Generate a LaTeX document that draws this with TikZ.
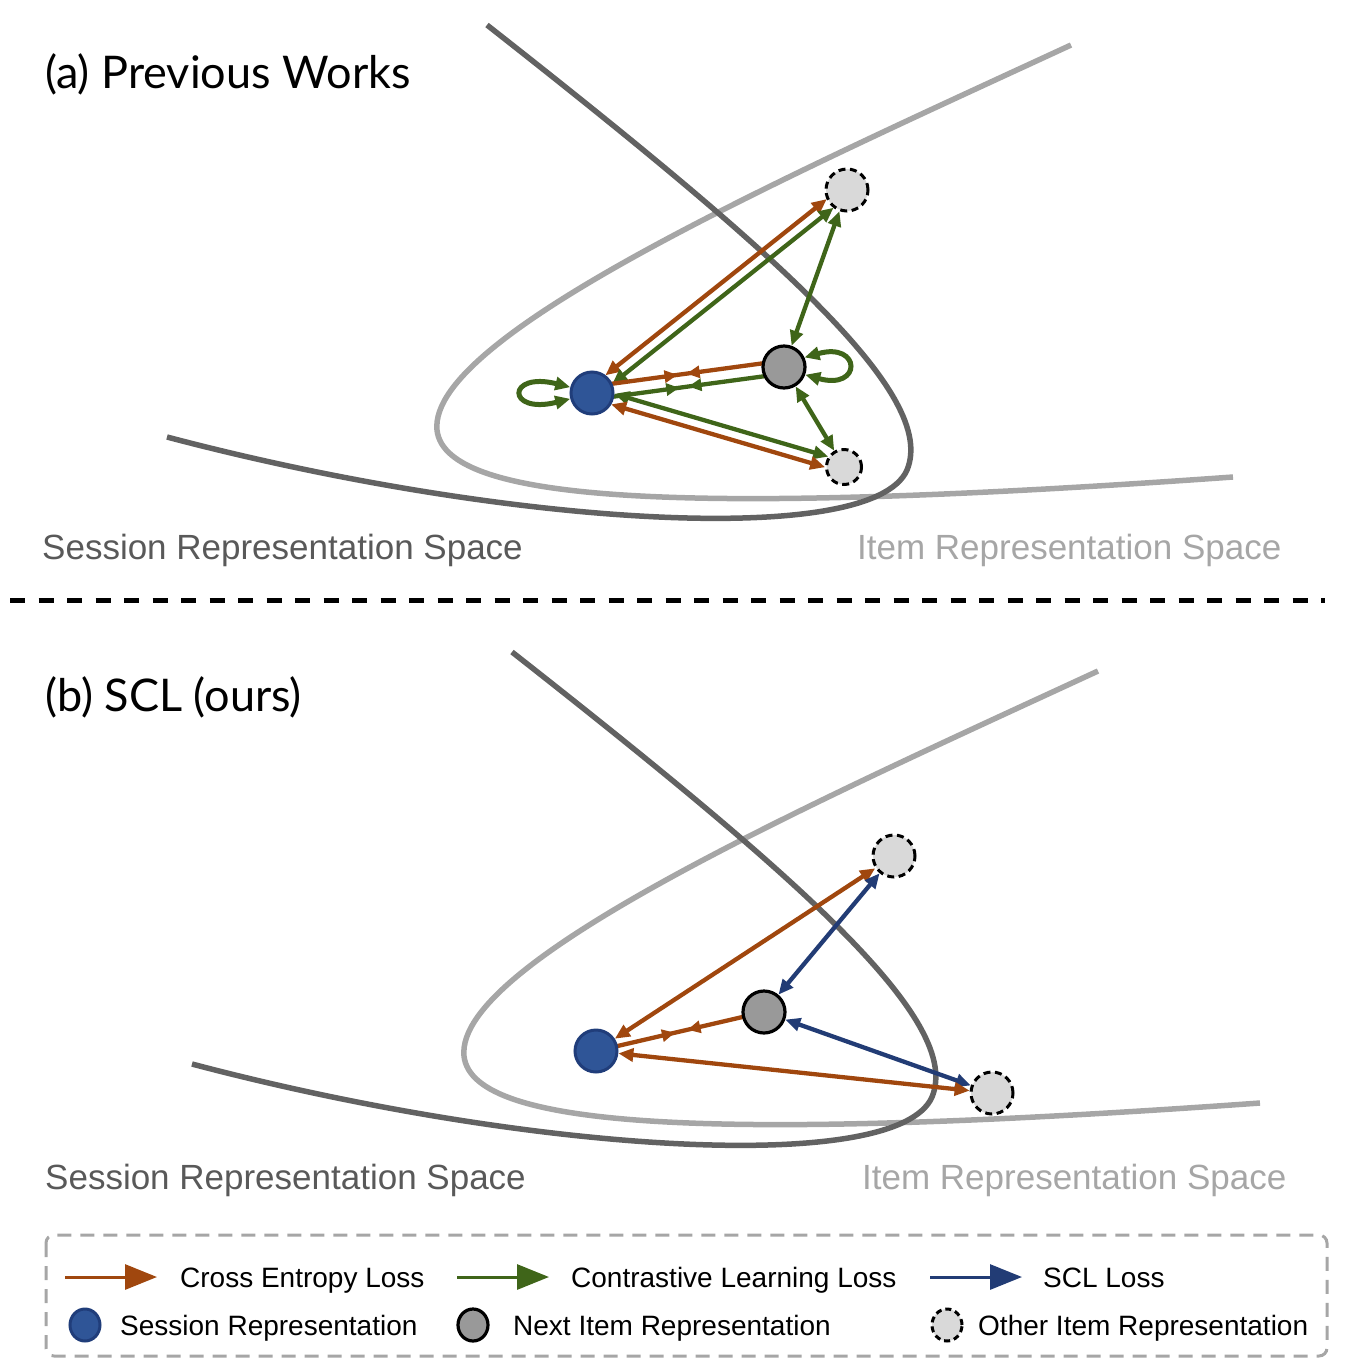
\documentclass[tikz,border=0pt]{standalone}
\usepackage{fontspec}
\setmainfont{Liberation Sans}
\newfontfamily\titlefont{Lato}
\usetikzlibrary{arrows.meta,calc,decorations.markings,shapes.geometric}
\pgfdeclarelayer{bg}
\pgfdeclarelayer{conn}
\pgfsetlayers{bg,conn,main}
\definecolor{ceC}{HTML}{A0470E}
\definecolor{clC}{HTML}{3F6519}
\definecolor{sclC}{HTML}{223C75}
\definecolor{sessF}{HTML}{2F5597}
\definecolor{sessD}{HTML}{203D7A}
\definecolor{nextF}{HTML}{999999}
\definecolor{othF}{HTML}{D9D9D9}
\definecolor{darkC}{HTML}{626262}
\definecolor{lightC}{HTML}{A6A6A6}
\definecolor{sessT}{HTML}{595959}
\definecolor{itemT}{HTML}{A6A6A6}
\tikzset{
  sess/.style={circle, fill=sessF, draw=sessD, line width=3pt, minimum size=42pt, inner sep=0pt},
  nexti/.style={circle, fill=nextF, draw=black, line width=3.2pt, minimum size=42pt, inner sep=0pt},
  other/.style={circle, fill=othF, draw=black, line width=3pt, dash pattern=on 7pt off 4.5pt, minimum size=42pt, inner sep=0pt},
  tipstyle/.style={>={Triangle[length=15pt,width=13pt]}},
  ce/.style={draw=ceC, line width=4.3pt, tipstyle},
  cl/.style={draw=clC, line width=4.3pt, tipstyle},
  scl/.style={draw=sclC, line width=4.3pt, tipstyle},
  loopline/.style={draw=clC, line width=5pt, tipstyle},
  darkcurve/.style={draw=darkC, line width=5.5pt},
  lightcurve/.style={draw=lightC, line width=5.5pt},
  titletext/.style={anchor=base west, inner sep=0pt, font=\titlefont\fontsize{45}{52}\selectfont},
  spacetext/.style={anchor=base west, inner sep=0pt, font=\fontsize{35}{40}\selectfont},
  legtext/.style={anchor=base west, inner sep=0pt, font=\fontsize{28}{32}\selectfont},
  legarrow/.style={line width=3pt, -{Triangle[length=32pt,width=25pt]}},
  marksA/.style={postaction={decorate}, decoration={markings,
     mark=at position 0.45 with {\arrow{Triangle[length=13pt,width=12pt]}},
     mark=at position 0.565 with {\arrow{Triangle[reversed,length=13pt,width=12pt]}}}},
  marksB/.style={postaction={decorate}, decoration={markings,
     mark=at position 0.47 with {\arrow{Triangle[length=13pt,width=12pt]}},
     mark=at position 0.62 with {\arrow{Triangle[reversed,length=13pt,width=12pt]}}}},
}
\begin{document}
\begin{tikzpicture}[x=1pt,y=-1pt]
\useasboundingbox (0,0) rectangle (1351,1358);

% ---------- titles ----------
\node[titletext] (ta) at (45,88) {(a) Previous Works};
\node[titletext] (tb) at (45,711) {(b) SCL (ours)};

% ---------- curves ----------
\begin{pgfonlayer}{bg}
\draw[lightcurve] (1071,45) .. controls (790,175) and (428,335) .. (437,430)
      .. controls (445,505) and (700,515) .. (1233,477);
\draw[darkcurve] (487,25) .. controls (780,255) and (938,395) .. (907,470)
      .. controls (872,550) and (500,525) .. (167,437);
\begin{scope}[shift={(27,626)}]
\draw[lightcurve] (1071,45) .. controls (790,175) and (428,335) .. (437,430)
      .. controls (445,505) and (700,515) .. (1233,477);
\end{scope}
\begin{scope}[shift={(25,627)}]
\draw[darkcurve] (487,25) .. controls (780,255) and (938,395) .. (907,470)
      .. controls (872,550) and (500,525) .. (167,437);
\end{scope}
\end{pgfonlayer}

% ---------- space labels ----------
\node[spacetext, text=sessT] (sla) at (42,559) {Session Representation Space};
\node[spacetext, text=itemT] (ila) at (857,559) {Item Representation Space};
\node[spacetext, text=sessT] (slb) at (45,1189) {Session Representation Space};
\node[spacetext, text=itemT] (ilb) at (862,1189) {Item Representation Space};

% ---------- divider ----------
\coordinate (dl) at (10,600);
\coordinate (dr) at (1325,600);
\draw[black, line width=5pt, dash pattern=on 15pt off 13.5pt] (dl) -- (dr);

% ---------- panel (a) nodes ----------
\node[sess] (Sa) at (592,393) {};
\node[nexti] (Na) at (784,367) {};
\node[other] (Oa1) at (847,190) {};
\node[other, minimum size=35pt] (Oa2) at (844,467) {};

\begin{pgfonlayer}{conn}
% S <-> O1
\draw[ce,<->, shorten <=21.5pt, shorten >=21.5pt] ($(Sa)!5.5pt!90:(Oa1)$) -- ($(Oa1)!5.5pt!-90:(Sa)$);
\draw[cl,<->, shorten <=21.5pt, shorten >=21.5pt] ($(Sa)!5.5pt!-90:(Oa1)$) -- ($(Oa1)!5.5pt!90:(Sa)$);
% S -- N with middle arrowheads
\draw[ce, marksA] ($(Sa)!6.5pt!90:(Na)$) -- ($(Na)!6.5pt!-90:(Sa)$);
\draw[cl, marksA] ($(Sa)!6.5pt!-90:(Na)$) -- ($(Na)!6.5pt!90:(Sa)$);
% S <-> O2
\draw[cl,<->, shorten <=21.5pt, shorten >=18pt] ($(Sa)!5.5pt!90:(Oa2)$) -- ($(Oa2)!5.5pt!-90:(Sa)$);
\draw[ce,<->, shorten <=21.5pt, shorten >=18pt] ($(Sa)!5.5pt!-90:(Oa2)$) -- ($(Oa2)!5.5pt!90:(Sa)$);
% N <-> O1, N <-> O2
\draw[cl,<->] (Na) -- (Oa1);
\draw[cl,<->] (Na) -- (Oa2);
% self loops
\draw[loopline,<->] (Sa.165) .. controls +(-64,-16) and +(-64,16) .. (Sa.195);
\draw[loopline,<->] (Na.25) .. controls +(57,-16) and +(57,16) .. (Na.-20);
\end{pgfonlayer}

% ---------- panel (b) nodes ----------
\node[sess] (Sb) at (596,1051) {};
\node[nexti] (Nb) at (764,1012) {};
\node[other] (Ob1) at (894,856) {};
\node[other] (Ob2) at (992,1093) {};

\begin{pgfonlayer}{conn}
\draw[ce,<->] (Sb) -- (Ob1);
\draw[scl,<->] (Nb) -- (Ob1);
\draw[ce, marksB] (Sb.center) -- (Nb.center);
\draw[scl,<->] (Nb) -- (Ob2);
\draw[ce,<->] (Sb) -- (Ob2);
\end{pgfonlayer}

% ---------- legend ----------
\draw[lightC, line width=3pt, dash pattern=on 14pt off 9pt, rounded corners=8pt] (46,1235) rectangle (1327,1356);

\coordinate (l1s) at (65,1277);  \coordinate (l1e) at (157,1277);
\coordinate (l2s) at (457,1277); \coordinate (l2e) at (549,1277);
\coordinate (l3s) at (930,1277); \coordinate (l3e) at (1022,1277);
\draw[legarrow, ceC] (l1s) -- (l1e);
\draw[legarrow, clC] (l2s) -- (l2e);
\draw[legarrow, sclC] (l3s) -- (l3e);
\node[legtext] (lt1) at (180,1287) {Cross Entropy Loss};
\node[legtext] (lt2) at (571,1287) {Contrastive Learning Loss};
\node[legtext] (lt3) at (1043,1287) {SCL Loss};

\node[ellipse, fill=sessF, draw=sessD, line width=3pt, minimum width=30pt, minimum height=32pt, inner sep=0pt] (lc1) at (85,1325) {};
\node[ellipse, fill=nextF, draw=black, line width=3.2pt, minimum width=30pt, minimum height=32pt, inner sep=0pt] (lc2) at (473,1325) {};
\node[ellipse, fill=othF, draw=black, line width=3pt, dash pattern=on 6pt off 4pt, minimum width=30pt, minimum height=32pt, inner sep=0pt] (lc3) at (947,1325) {};
\node[legtext] (lt4) at (120,1335) {Session Representation};
\node[legtext] (lt5) at (513,1335) {Next Item Representation};
\node[legtext] (lt6) at (978,1335) {Other Item Representation};
\end{tikzpicture}
\end{document}
